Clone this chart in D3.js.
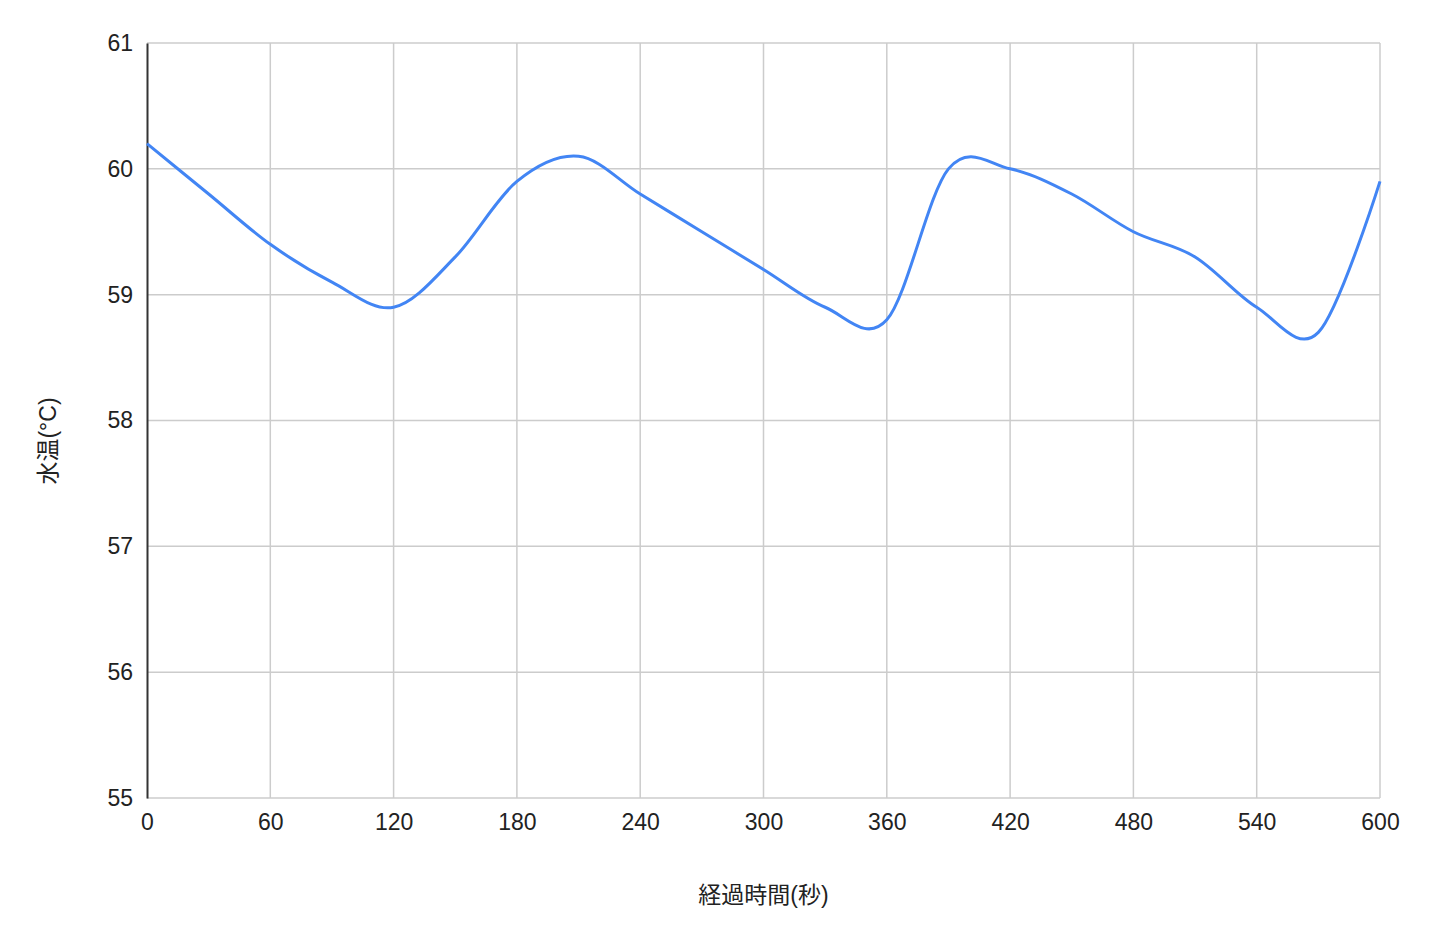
<!DOCTYPE html>
<html>
<head>
<meta charset="utf-8">
<script src="https://cdn.jsdelivr.net/npm/d3@7"></script>
<style>
  body { margin: 0; background: #fff; }
  text { font-family: "Liberation Sans", Arial, "Noto Sans CJK JP", sans-serif; }
</style>
</head>
<body>
<script>
// elapsed seconds, sampled every 30 s
const SECONDS = [0, 30, 60, 90, 120, 150, 180, 210, 240, 270, 300,
  330, 360, 390, 420, 450, 480, 510, 540, 570, 600];
// water temperature (°C)
const TEMPS = [60.2, 59.8, 59.4, 59.1, 58.9, 59.3, 59.9, 60.1, 59.8, 59.5, 59.2,
  58.9, 58.8, 60.0, 60.0, 59.8, 59.5, 59.3, 58.9, 58.7, 59.9];
const X_TICKS = [0, 60, 120, 180, 240, 300, 360, 420, 480, 540, 600];
const Y_TICKS = [55, 56, 57, 58, 59, 60, 61];

const width = 1436;
const height = 942;
const margin = { top: 43, right: 56, bottom: 144, left: 147 };

const x = d3.scaleLinear()
  .domain([0, 600])
  .range([margin.left, width - margin.right]);

const y = d3.scaleLinear()
  .domain([55, 61])
  .range([height - margin.bottom, margin.top]);

const svg = d3.select("body").append("svg")
  .attr("width", width)
  .attr("height", height);

// grid
svg.append("g")
  .selectAll("line")
  .data(Y_TICKS)
  .enter()
    .append("line")
    .attr("x1", margin.left)
    .attr("x2", width - margin.right)
    .attr("y1", d => y(d))
    .attr("y2", d => y(d))
    .attr("stroke", "#cccccc")
    .attr("stroke-width", 1.5);

svg.append("g")
  .selectAll("line")
  .data(X_TICKS.slice(1))
  .enter()
    .append("line")
    .attr("x1", d => x(d))
    .attr("x2", d => x(d))
    .attr("y1", margin.top)
    .attr("y2", height - margin.bottom)
    .attr("stroke", "#cccccc")
    .attr("stroke-width", 1.5);

// y axis
const yAxis = svg.append("g")
  .attr("transform", `translate(${margin.left},0)`)
  .call(d3.axisLeft(y).tickValues(Y_TICKS).tickSize(0).tickPadding(14).tickFormat(d3.format("d")));
yAxis.select(".domain").attr("stroke", "#333333").attr("stroke-width", 2);
yAxis.selectAll("text").attr("font-size", 23).attr("fill", "#222");

// x axis
const xAxis = svg.append("g")
  .attr("transform", `translate(0,${height - margin.bottom})`)
  .call(d3.axisBottom(x).tickValues(X_TICKS).tickSize(0).tickPadding(16).tickFormat(d3.format("d")));
xAxis.select(".domain").remove();
xAxis.selectAll("text").attr("font-size", 23).attr("fill", "#222");

// line
const line = d3.line()
  .x((d, i) => x(SECONDS[i]))
  .y(d => y(d))
  .curve(d3.curveCardinal.tension(0));

svg.append("path")
  .datum(TEMPS)
  .attr("fill", "none")
  .attr("stroke", "#4285f4")
  .attr("stroke-width", 3)
  .attr("stroke-linejoin", "round")
  .attr("d", line);

// titles
svg.append("text")
  .attr("x", (margin.left + width - margin.right) / 2)
  .attr("y", 903)
  .attr("text-anchor", "middle")
  .attr("font-size", 23)
  .attr("fill", "#222")
  .text("経過時間(秒)");

svg.append("text")
  .attr("transform", "translate(56,441) rotate(-90)")
  .attr("text-anchor", "middle")
  .attr("font-size", 23)
  .attr("fill", "#222")
  .text("水温(°C)");
</script>
</body>
</html>
